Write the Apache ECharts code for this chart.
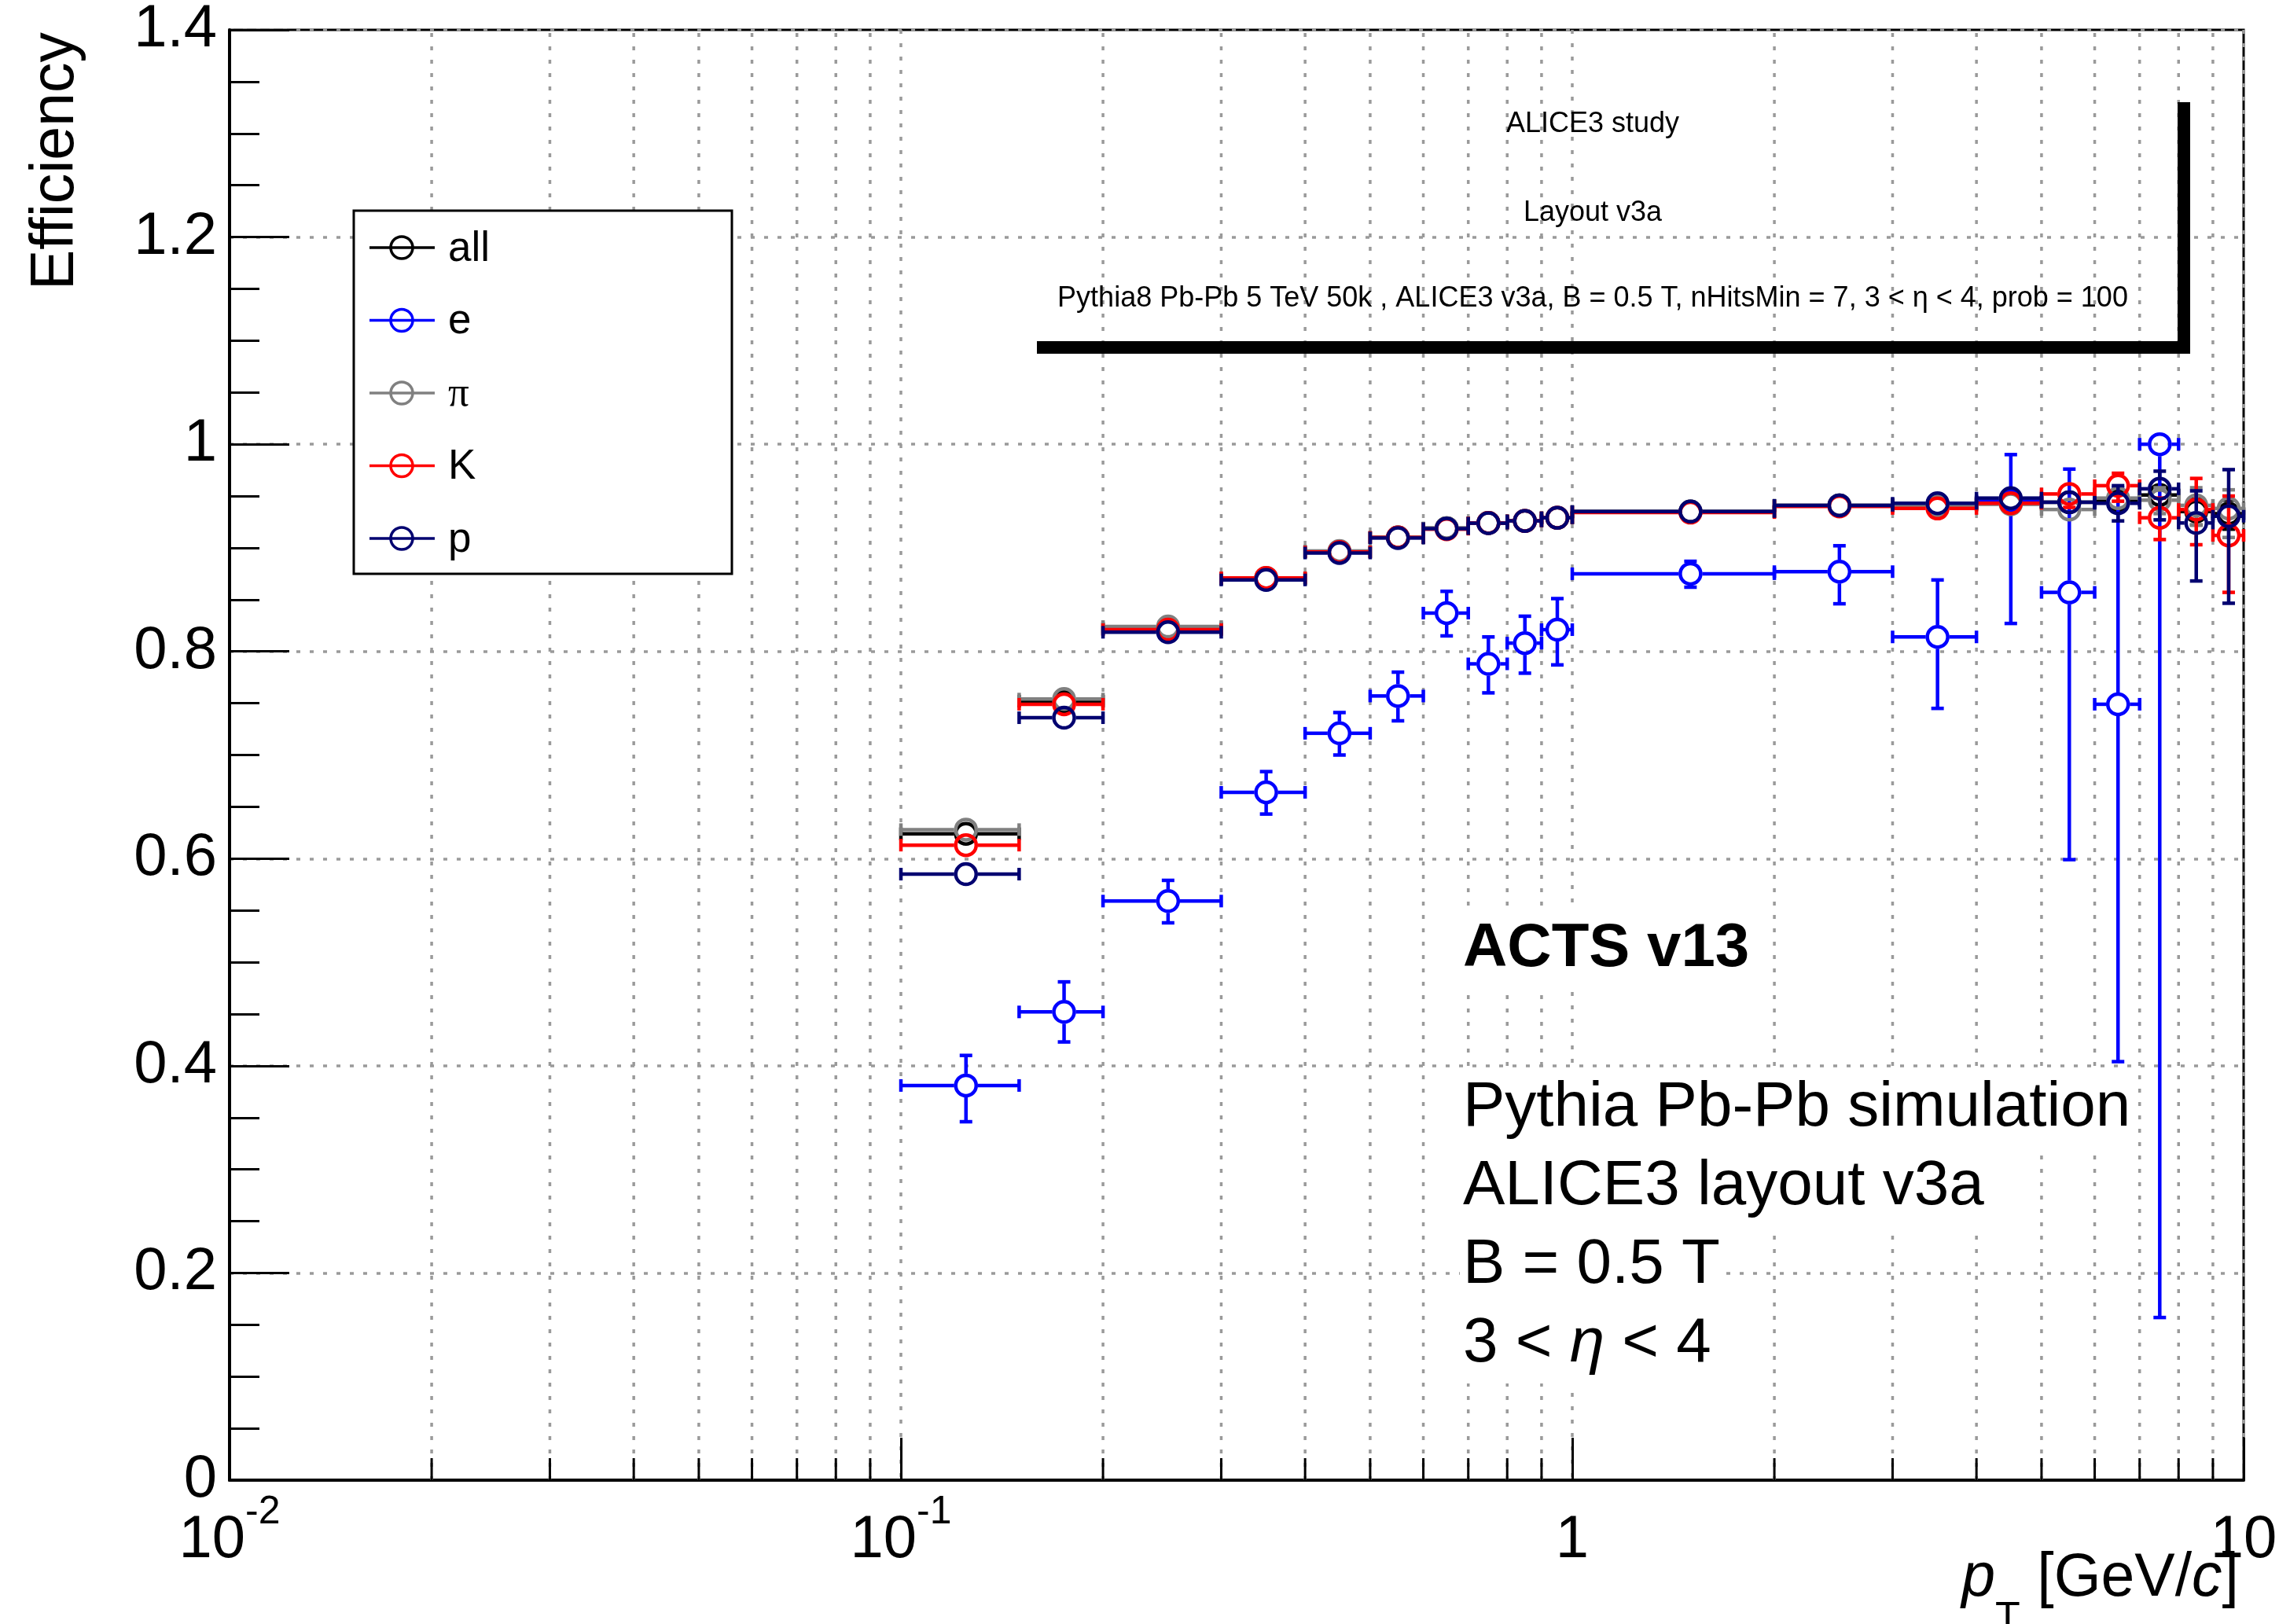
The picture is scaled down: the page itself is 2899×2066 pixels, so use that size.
<!DOCTYPE html>
<html>
<head>
<meta charset="utf-8">
<script src="https://cdn.jsdelivr.net/npm/echarts@6/dist/echarts.min.js"></script>
<style>
  html, body { margin: 0; padding: 0; background: #fff; }
  #chart { width: 2899px; height: 2066px; }
</style>
</head>
<body>
<div id="chart"></div>
<script>
// pT binning (GeV/c)
const binEdges  = [0.1, 0.15, 0.2, 0.3, 0.4, 0.5, 0.6, 0.7, 0.8, 0.9, 1, 2, 3, 4, 5, 6, 7, 8, 9, 10];
const ptCenters = [0.125, 0.175, 0.25, 0.35, 0.45, 0.55, 0.65, 0.75, 0.85, 0.95, 1.5, 2.5, 3.5, 4.5, 5.5, 6.5, 7.5, 8.5, 9.5];

// tracking efficiency per species
const effAll = [0.624, 0.752, 0.822, 0.870, 0.896, 0.910, 0.919, 0.924, 0.926, 0.929, 0.935, 0.941, 0.942, 0.944, 0.944, 0.946, 0.951, 0.935, 0.933];
const errAllUp = [0.003, 0.003, 0.002, 0.002, 0.002, 0.002, 0.002, 0.002, 0.002, 0.002, 0.001, 0.002, 0.003, 0.004, 0.006, 0.007, 0.008, 0.012, 0.013];
const errAllDn = [0.003, 0.003, 0.002, 0.002, 0.002, 0.002, 0.002, 0.002, 0.002, 0.002, 0.001, 0.002, 0.003, 0.004, 0.006, 0.007, 0.009, 0.013, 0.015];

const effE = [0.381, 0.452, 0.559, 0.664, 0.721, 0.757, 0.837, 0.788, 0.808, 0.821, 0.875, 0.877, 0.814, 0.945, 0.857, 0.749, 1.0, null, null];
const errEUp = [0.029, 0.029, 0.020, 0.020, 0.020, 0.023, 0.021, 0.026, 0.026, 0.030, 0.012, 0.025, 0.055, 0.045, 0.119, 0.209, 0.0, null, null];
const errEDn = [0.035, 0.029, 0.021, 0.021, 0.021, 0.024, 0.022, 0.028, 0.029, 0.034, 0.013, 0.031, 0.069, 0.118, 0.258, 0.345, 0.843, null, null];

const effPi = [0.628, 0.754, 0.824, 0.871, 0.897, 0.910, 0.919, 0.924, 0.926, 0.929, 0.935, 0.941, 0.941, 0.942, 0.937, 0.948, 0.946, 0.941, 0.938];
const errPiUp = [0.004, 0.003, 0.002, 0.002, 0.002, 0.002, 0.002, 0.002, 0.002, 0.002, 0.002, 0.003, 0.004, 0.006, 0.009, 0.010, 0.012, 0.017, 0.018];
const errPiDn = [0.004, 0.003, 0.002, 0.002, 0.002, 0.002, 0.002, 0.002, 0.002, 0.002, 0.002, 0.003, 0.004, 0.006, 0.010, 0.011, 0.013, 0.019, 0.028];

const effK = [0.613, 0.749, 0.821, 0.871, 0.896, 0.910, 0.918, 0.924, 0.926, 0.929, 0.934, 0.940, 0.938, 0.943, 0.952, 0.960, 0.929, 0.937, 0.912];
const errKUp = [0.005, 0.004, 0.003, 0.003, 0.003, 0.003, 0.003, 0.003, 0.003, 0.003, 0.002, 0.004, 0.006, 0.009, 0.011, 0.012, 0.019, 0.030, 0.038];
const errKDn = [0.005, 0.004, 0.003, 0.003, 0.003, 0.003, 0.003, 0.003, 0.003, 0.003, 0.002, 0.004, 0.006, 0.009, 0.013, 0.015, 0.021, 0.034, 0.055];

const effP = [0.585, 0.736, 0.8185, 0.869, 0.895, 0.9095, 0.9185, 0.9238, 0.926, 0.929, 0.935, 0.941, 0.943, 0.948, 0.944, 0.943, 0.957, 0.924, 0.9305];
const errPUp = [0.005, 0.004, 0.003, 0.003, 0.003, 0.003, 0.003, 0.003, 0.003, 0.003, 0.002, 0.004, 0.006, 0.009, 0.010, 0.017, 0.017, 0.031, 0.045];
const errPDn = [0.005, 0.004, 0.003, 0.003, 0.003, 0.003, 0.003, 0.003, 0.003, 0.003, 0.002, 0.004, 0.006, 0.009, 0.010, 0.017, 0.030, 0.056, 0.084];

const speciesNames  = ['all', 'e', 'π', 'K', 'p'];
const speciesColors = ['#000000', '#0000ff', '#808080', '#ff0000', '#000070'];

// axis ticks and labels
const xTickValues = [0.01, 0.1, 1, 10];
const xTickBase   = ['10', '10', '1', '10'];
const xTickExp    = ['-2', '-1', '', ''];
const xMinorTicks = [0.02, 0.03, 0.04, 0.05, 0.06, 0.07, 0.08, 0.09,
                     0.2, 0.3, 0.4, 0.5, 0.6, 0.7, 0.8, 0.9,
                     2, 3, 4, 5, 6, 7, 8, 9];

const FONT = "'Liberation Sans', Arial, Helvetica, sans-serif";
const GRID_STYLE = { color: '#9a9a9a', width: 3.5, type: [5, 12] };

const MARKER_R = 13;   // open-circle radius
const GAP = 15;        // error bars stop at the marker edge
const CAP = 8;         // half length of end caps
const LW = 4.5;

function errorSeries(idx, eff, up, dn) {
  const color = speciesColors[idx];
  const data = [];
  for (let i = 0; i < ptCenters.length; i++) {
    if (eff[i] == null) continue;
    data.push([ptCenters[i], eff[i], binEdges[i], binEdges[i + 1], eff[i] - dn[i], eff[i] + up[i]]);
  }
  return {
    type: 'custom',
    name: speciesNames[idx],
    z: 10 + idx,
    data: data,
    encode: { x: 0, y: 1 },
    renderItem: function (params, api) {
      const c  = api.coord([api.value(0), api.value(1)]);
      const xl = api.coord([api.value(2), api.value(1)])[0];
      const xh = api.coord([api.value(3), api.value(1)])[0];
      const yl = api.coord([api.value(0), api.value(4)])[1];
      const yh = api.coord([api.value(0), api.value(5)])[1];
      const kids = [];
      const seg = (x1, y1, x2, y2) => kids.push({
        type: 'line', shape: { x1, y1, x2, y2 },
        style: { stroke: color, lineWidth: LW, fill: null }
      });
      if (c[0] - xl > GAP) { seg(xl, c[1], c[0] - GAP, c[1]); seg(xl, c[1] - CAP, xl, c[1] + CAP); }
      if (xh - c[0] > GAP) { seg(c[0] + GAP, c[1], xh, c[1]); seg(xh, c[1] - CAP, xh, c[1] + CAP); }
      if (yl - c[1] > GAP) { seg(c[0], c[1] + GAP, c[0], yl); seg(c[0] - CAP, yl, c[0] + CAP, yl); }
      if (c[1] - yh > GAP) { seg(c[0], c[1] - GAP, c[0], yh); seg(c[0] - CAP, yh, c[0] + CAP, yh); }
      kids.push({
        type: 'circle', shape: { cx: c[0], cy: c[1], r: MARKER_R },
        style: { stroke: color, lineWidth: LW, fill: 'none' }
      });
      return { type: 'group', children: kids };
    }
  };
}

// dotted grid lines and short ticks at the logarithmic sub-divisions
const minorGridSeries = {
  type: 'custom',
  silent: true,
  z: 1,
  data: xMinorTicks.map(v => [v, 0]),
  encode: { x: 0, y: 1 },
  renderItem: function (params, api) {
    const b = api.coord([api.value(0), 0]);
    const t = api.coord([api.value(0), 1.4]);
    return {
      type: 'group',
      children: [
        { type: 'line', shape: { x1: b[0], y1: b[1], x2: t[0], y2: t[1] },
          style: { stroke: GRID_STYLE.color, lineWidth: GRID_STYLE.width, lineDash: GRID_STYLE.type } },
        { type: 'line', shape: { x1: b[0], y1: b[1], x2: b[0], y2: b[1] - 28 },
          style: { stroke: '#000', lineWidth: 3 } }
      ]
    };
  }
};

// legend box
const legendGraphics = [{
  type: 'rect', z: 100,
  shape: { x: 450, y: 268, width: 481, height: 462 },
  style: { fill: '#fff', stroke: '#000', lineWidth: 3 }
}];
speciesNames.forEach((name, i) => {
  const y = 315 + i * 92.5;
  legendGraphics.push(
    { type: 'line', z: 101, shape: { x1: 470, y1: y, x2: 553, y2: y },
      style: { stroke: speciesColors[i], lineWidth: 3.5 } },
    { type: 'circle', z: 101, shape: { cx: 511, cy: y, r: 14 },
      style: { stroke: speciesColors[i], lineWidth: 3.5, fill: 'none' } },
    { type: 'text', z: 101, x: 570, y: y + 2,
      style: { text: name, fontSize: 53,
               fontFamily: name === 'π' ? "'Liberation Serif', 'DejaVu Serif', serif" : FONT,
               fill: '#000', align: 'left', verticalAlign: 'middle',
               textAlign: 'left', textVerticalAlign: 'middle' } }
  );
});

function label(text, x, y, opts) {
  return {
    type: 'text', z: 100, x: x, y: y,
    style: Object.assign({
      text: text, fontFamily: FONT, fill: '#000',
      align: 'left', verticalAlign: 'middle', textAlign: 'left', textVerticalAlign: 'middle'
    }, opts || {})
  };
}

const infoLines = ['Pythia Pb-Pb simulation', 'ALICE3 layout v3a', 'B = 0.5 T'];
const INFO_FS = 80;

const graphics = legendGraphics.concat([
  // y-axis title
  {
    type: 'text', z: 100, x: 72, y: 41, rotation: Math.PI / 2,
    style: { text: 'Efficiency', fontFamily: FONT, fontSize: 77, fill: '#000',
             align: 'right', verticalAlign: 'middle', textAlign: 'right', textVerticalAlign: 'middle' }
  },
  // x-axis title
  {
    type: 'text', z: 100, x: 2848, y: 1970,
    style: {
      text: '{p|p}{t|T}{n| [GeV/}{c|c}{n|]}',
      align: 'right', verticalAlign: 'top', textAlign: 'right', textVerticalAlign: 'top',
      rich: {
        p: { fontFamily: FONT, fontSize: 77, fontStyle: 'italic', lineHeight: 116, verticalAlign: 'top', fill: '#000' },
        t: { fontFamily: FONT, fontSize: 52, lineHeight: 116, verticalAlign: 'bottom', fill: '#000' },
        n: { fontFamily: FONT, fontSize: 77, lineHeight: 116, verticalAlign: 'top', fill: '#000' },
        c: { fontFamily: FONT, fontSize: 77, fontStyle: 'italic', lineHeight: 116, verticalAlign: 'top', fill: '#000' }
      }
    }
  },
  // header pave: shadow and centred lines
  { type: 'rect', z: 100, shape: { x: 1319, y: 434, width: 1467, height: 16 }, style: { fill: '#000' } },
  { type: 'rect', z: 100, shape: { x: 2770, y: 130, width: 16, height: 320 }, style: { fill: '#000' } },
  label('ALICE3 study', 2026, 158, { fontSize: 36, align: 'center', textAlign: 'center' }),
  label('Layout v3a', 2026, 271, { fontSize: 36, align: 'center', textAlign: 'center' }),
  label('Pythia8 Pb-Pb 5 TeV 50k , ALICE3 v3a, B = 0.5 T, nHitsMin = 7, 3 < η < 4, prob = 100', 2026, 380,
        { fontSize: 36, align: 'center', textAlign: 'center' }),
  // simulation info
  label('ACTS v13', 1857, 1207, { fontSize: 78, fontWeight: 'bold', backgroundColor: '#fff',
                                  lineHeight: 98, padding: [0, 10, 0, 4] }),
  label(infoLines[0], 1857, 1410, { fontSize: INFO_FS, backgroundColor: '#fff', lineHeight: 100, padding: [0, 6, 0, 4] }),
  label(infoLines[1], 1857, 1510, { fontSize: INFO_FS, backgroundColor: '#fff', lineHeight: 100, padding: [0, 6, 0, 4] }),
  label(infoLines[2], 1857, 1610, { fontSize: INFO_FS, backgroundColor: '#fff', lineHeight: 100, padding: [0, 6, 0, 4] }),
  {
    type: 'text', z: 100, x: 1857, y: 1710,
    style: {
      text: '{n|3 < }{i|η}{n| < 4}',
      backgroundColor: '#fff', padding: [0, 6, 0, 4],
      align: 'left', verticalAlign: 'middle', textAlign: 'left', textVerticalAlign: 'middle',
      rich: {
        n: { fontFamily: FONT, fontSize: INFO_FS, lineHeight: 100, fill: '#000' },
        i: { fontFamily: FONT, fontSize: INFO_FS, fontStyle: 'italic', lineHeight: 100, fill: '#000' }
      }
    }
  }
]);

const chart = echarts.init(document.getElementById('chart'), null, { renderer: 'canvas' });
chart.setOption({
  animation: false,
  backgroundColor: '#fff',
  grid: {
    left: 292, right: 45, top: 38, bottom: 183,
    containLabel: false, outerBoundsMode: 'none',
    show: true, borderColor: '#000', borderWidth: 3, backgroundColor: 'transparent'
  },
  xAxis: {
    type: 'log', logBase: 10, min: 0.01, max: 10,
    axisLine: { show: true, onZero: false, lineStyle: { color: '#000', width: 4 } },
    axisTick: { show: true, inside: true, length: 54, lineStyle: { color: '#000', width: 3 } },
    axisLabel: {
      show: true, margin: 16, showMinLabel: true, showMaxLabel: true, color: '#000',
      formatter: function (v) {
        const k = xTickValues.findIndex(t => Math.abs(Math.log10(t) - Math.log10(v)) < 1e-6);
        if (k < 0) return '';
        return '{b|' + xTickBase[k] + '}' + (xTickExp[k] ? '{s|' + xTickExp[k] + '}' : '');
      },
      rich: {
        b: { fontFamily: FONT, fontSize: 76, lineHeight: 122, color: '#000' },
        s: { fontFamily: FONT, fontSize: 50, lineHeight: 50, verticalAlign: 'top', color: '#000' }
      }
    },
    splitLine: { show: true, lineStyle: GRID_STYLE }
  },
  yAxis: {
    type: 'value', min: 0, max: 1.4, interval: 0.2,
    axisLine: { show: true, lineStyle: { color: '#000', width: 4 } },
    axisTick: { show: true, inside: true, length: 76, lineStyle: { color: '#000', width: 3 } },
    minorTick: { show: true, splitNumber: 4, length: 38, lineStyle: { color: '#000', width: 3 } },
    axisLabel: { fontFamily: FONT, fontSize: 76, color: '#000', margin: 16 },
    splitLine: { show: true, lineStyle: GRID_STYLE }
  },
  series: [
    minorGridSeries,
    errorSeries(0, effAll, errAllUp, errAllDn),
    errorSeries(1, effE, errEUp, errEDn),
    errorSeries(2, effPi, errPiUp, errPiDn),
    errorSeries(3, effK, errKUp, errKDn),
    errorSeries(4, effP, errPUp, errPDn)
  ],
  graphic: graphics
});
</script>
</body>
</html>
